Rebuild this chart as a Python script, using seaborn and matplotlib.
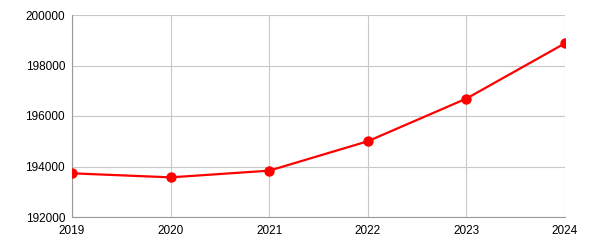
import matplotlib
matplotlib.use("Agg")
import matplotlib.pyplot as plt
import seaborn as sns
import pandas as pd

years = [2019, 2020, 2021, 2022, 2023, 2024]
values = [193730, 193570, 193835, 195000, 196690, 198880]
y_ticks = [192000, 194000, 196000, 198000, 200000]

sns.set_style("white")
plt.rcParams['font.family'] = ['Liberation Sans', 'DejaVu Sans']

df = pd.DataFrame({"year": years, "value": values})

fig = plt.figure(figsize=(6, 2.5), dpi=100)
ax = fig.add_axes([72/600, 1-217/250, (565-72)/600, (217-15)/250])

sns.lineplot(data=df, x="year", y="value", ax=ax, color="#ff0000",
             linewidth=1.6, marker="o", markersize=7.5, markeredgewidth=0,
             zorder=3)

ax.set_xlim(2019, 2024)
ax.set_ylim(192000, 200000)
ax.set_xticks(years)
ax.set_xticklabels([str(y) for y in years])
ax.set_yticks(y_ticks)
ax.set_yticklabels([str(v) for v in y_ticks])
ax.grid(True, color="#c8c8c8", linewidth=0.8)
ax.set_axisbelow(True)
ax.set_xlabel("")
ax.set_ylabel("")
for s in ["top", "right"]:
    ax.spines[s].set_visible(False)
for s in ["left", "bottom"]:
    ax.spines[s].set_color("#999999")
    ax.spines[s].set_linewidth(0.8)
ax.tick_params(axis="both", length=4, width=0.8, color="#333333",
               labelsize=8.5, labelcolor="#000000", pad=1, direction="out")
ax.tick_params(axis="x", pad=2)

fig.savefig("out.png", dpi=100)
